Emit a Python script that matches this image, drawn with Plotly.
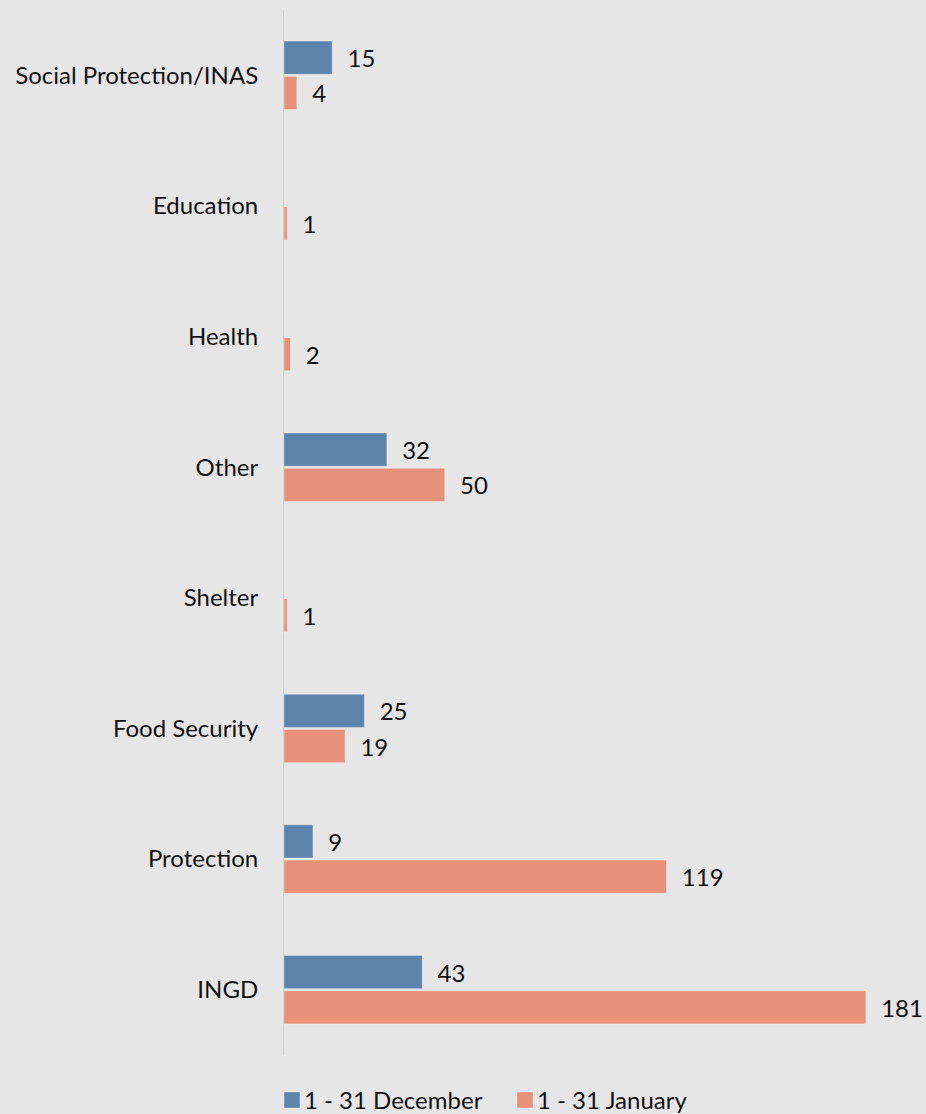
import plotly.graph_objects as go

# Referrals by sector, two reporting periods
categories = ["Social Protection/INAS", "Education", "Health", "Other",
              "Shelter", "Food Security", "Protection", "INGD"]
december = [15, None, None, 32, None, 25, 9, 43]
january = [4, 1, 2, 50, 1, 19, 119, 181]

series = [
    ("1 - 31 December", december, "#5B83AC"),
    ("1 - 31 January", january, "#E8917A"),
]

FONT = "Lato, 'Open Sans', sans-serif"
TEXT_COLOR = "#111111"

W, H = 926, 1114
M_L, M_R, M_T, M_B = 284, 0, 10, 59
PLOT_W = W - M_L - M_R
PLOT_H = H - M_T - M_B


def px_to_paper(px, py):
    """Convert a pixel position on the page to paper coordinates."""
    return (px - M_L) / PLOT_W, (H - M_B - py) / PLOT_H


fig = go.Figure()
for name, values, color in series:
    fig.add_trace(go.Bar(
        y=categories,
        x=values,
        name=name,
        orientation="h",
        marker=dict(color=color, line=dict(color="rgba(255,255,255,0.35)", width=1)),
        text=[v if v is not None else "" for v in values],
        texttemplate="  %{x}",
        textposition="outside",
        textfont=dict(family=FONT, size=24, color=TEXT_COLOR),
        cliponaxis=False,
        showlegend=False,
    ))

# Legend row below the plot: colour swatch followed by the series name
legend_left = [284, 517]
swatch_w, swatch_top, swatch_bot = 16, 1092, 1108
for (name, _, color), left in zip(series, legend_left):
    x0, y0 = px_to_paper(left, swatch_bot)
    x1, y1 = px_to_paper(left + swatch_w, swatch_top)
    fig.add_shape(type="rect", xref="paper", yref="paper",
                  x0=x0, x1=x1, y0=y0, y1=y1,
                  fillcolor=color, line=dict(color="rgba(255,255,255,0.35)", width=1))
    tx, ty = px_to_paper(left + swatch_w + 3, 1099)
    fig.add_annotation(xref="paper", yref="paper", x=tx, y=ty,
                       xanchor="left", yanchor="middle", showarrow=False,
                       borderpad=0,
                       text=name, font=dict(family=FONT, size=24, color=TEXT_COLOR))

fig.update_layout(
    width=W,
    height=H,
    margin=dict(l=M_L, r=M_R, t=M_T, b=M_B),
    paper_bgcolor="#E6E6E6",
    plot_bgcolor="#E6E6E6",
    barmode="group",
    bargap=0.46,
    bargroupgap=0.06,
    font=dict(family=FONT, size=24, color=TEXT_COLOR),
    showlegend=False,
)

fig.update_xaxes(
    range=[0, 199.7],
    showgrid=False,
    zeroline=False,
    showticklabels=False,
    showline=False,
)
fig.update_yaxes(
    autorange="reversed",
    showgrid=False,
    showline=True,
    linecolor="#D2D2D2",
    linewidth=1,
    ticks="",
    ticklabelstandoff=20,
    tickfont=dict(family=FONT, size=24, color=TEXT_COLOR),
)

fig.write_html("out.html")
